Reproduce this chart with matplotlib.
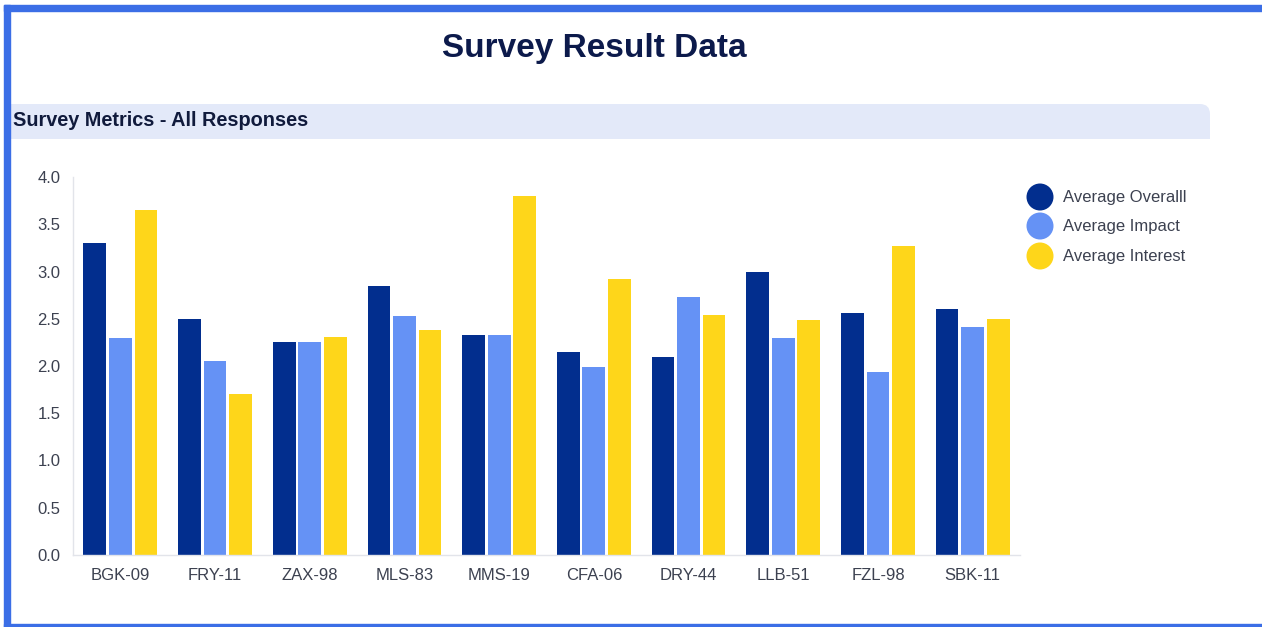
import matplotlib
matplotlib.use("Agg")
import matplotlib.pyplot as plt
import numpy as np
from matplotlib.patches import Rectangle, FancyBboxPatch, Circle

plt.rcParams['font.family'] = ['Liberation Sans', 'DejaVu Sans']

# Data
sites = ["BGK-09", "FRY-11", "ZAX-98", "MLS-83", "MMS-19",
         "CFA-06", "DRY-44", "LLB-51", "FZL-98", "SBK-11"]
avg_overall = [3.30, 2.50, 2.25, 2.85, 2.33, 2.15, 2.09, 3.00, 2.56, 2.60]
avg_impact = [2.30, 2.05, 2.25, 2.53, 2.33, 1.99, 2.73, 2.30, 1.94, 2.41]
avg_interest = [3.65, 1.70, 2.31, 2.38, 3.80, 2.92, 2.54, 2.49, 3.27, 2.50]
series_names = ["Average Overalll", "Average Impact", "Average Interest"]
yticks = [0.0, 0.5, 1.0, 1.5, 2.0, 2.5, 3.0, 3.5, 4.0]

colors = ["#022e8e", "#6592f5", "#fed61a"]
W, H = 1262, 627

fig = plt.figure(figsize=(W / 100, H / 100), dpi=100)
fig.patch.set_facecolor("white")


def fx(x):
    return x / W


def fy(y):
    return 1 - y / H


# Page frame
frame_blue = "#3b6ee6"
fig.patches.append(Rectangle((fx(4), fy(627)), fx(6), (627 - 5) / H,
                             transform=fig.transFigure, color=frame_blue, zorder=5))
fig.patches.append(Rectangle((fx(4), fy(11)), 1, 6 / H,
                             transform=fig.transFigure, color=frame_blue, zorder=5))
fig.patches.append(Rectangle((fx(4), fy(627)), 1, 3 / H,
                             transform=fig.transFigure, color=frame_blue, zorder=5))

# Title
fig.text(fx(594), fy(48), "Survey Result Data", ha="center", va="center",
         fontsize=24, fontweight="bold", color="#0c1a4b")

# Section header band (rounded on the top-right corner only)
band_color = "#e3e9f9"
fig.patches.append(FancyBboxPatch((fx(10), fy(139)), fx(1200), 35 / H,
                                  boxstyle="round,pad=0,rounding_size=0.008",
                                  transform=fig.transFigure, facecolor=band_color,
                                  edgecolor="none", zorder=1, mutation_aspect=W / H))
fig.patches.append(Rectangle((fx(10), fy(139)), fx(1180), 35 / H,
                             transform=fig.transFigure, facecolor=band_color,
                             edgecolor="none", zorder=1))
fig.patches.append(Rectangle((fx(10), fy(139)), fx(1200), 18 / H,
                             transform=fig.transFigure, facecolor=band_color,
                             edgecolor="none", zorder=1))
fig.text(fx(13), fy(121), "Survey Metrics - All Responses", ha="left", va="center",
         fontsize=14.3, fontweight="bold", color="#101a3c")

# Chart axes
ax = fig.add_axes([fx(73), fy(555), fx(1020 - 73), (555 - 177) / H])
x = np.arange(len(sites))
step = 0.27
bw = 0.24
for i, (vals, c) in enumerate(zip([avg_overall, avg_impact, avg_interest], colors)):
    ax.bar(x + (i - 1) * step, vals, width=bw, color=c, label=series_names[i], zorder=2)

ax.set_xlim(-0.5, len(sites) - 0.5)
ax.set_ylim(0, 4.0)
ax.set_yticks(yticks)
ax.set_yticklabels([f"{v:.1f}" for v in yticks])
ax.set_xticks(x)
ax.set_xticklabels(sites)
ax.tick_params(axis="both", length=0, labelsize=12, colors="#3c4150")
ax.tick_params(axis="y", pad=9)
ax.tick_params(axis="x", pad=9)
for s in ["top", "right"]:
    ax.spines[s].set_visible(False)
for s in ["left", "bottom"]:
    ax.spines[s].set_color("#e2e4ea")
    ax.spines[s].set_linewidth(1.0)

# Legend with round markers
leg_y = [197, 226, 256]
for name, c, yy in zip(series_names, colors, leg_y):
    fig.patches.append(Circle((1040 / 100, (H - yy) / 100), 13.5 / 100,
                              transform=fig.dpi_scale_trans,
                              facecolor=c, edgecolor="none"))
    fig.text(fx(1063), fy(yy), name, ha="left", va="center",
             fontsize=12, color="#3c4150")

fig.savefig("out.png", dpi=100, facecolor="white")
